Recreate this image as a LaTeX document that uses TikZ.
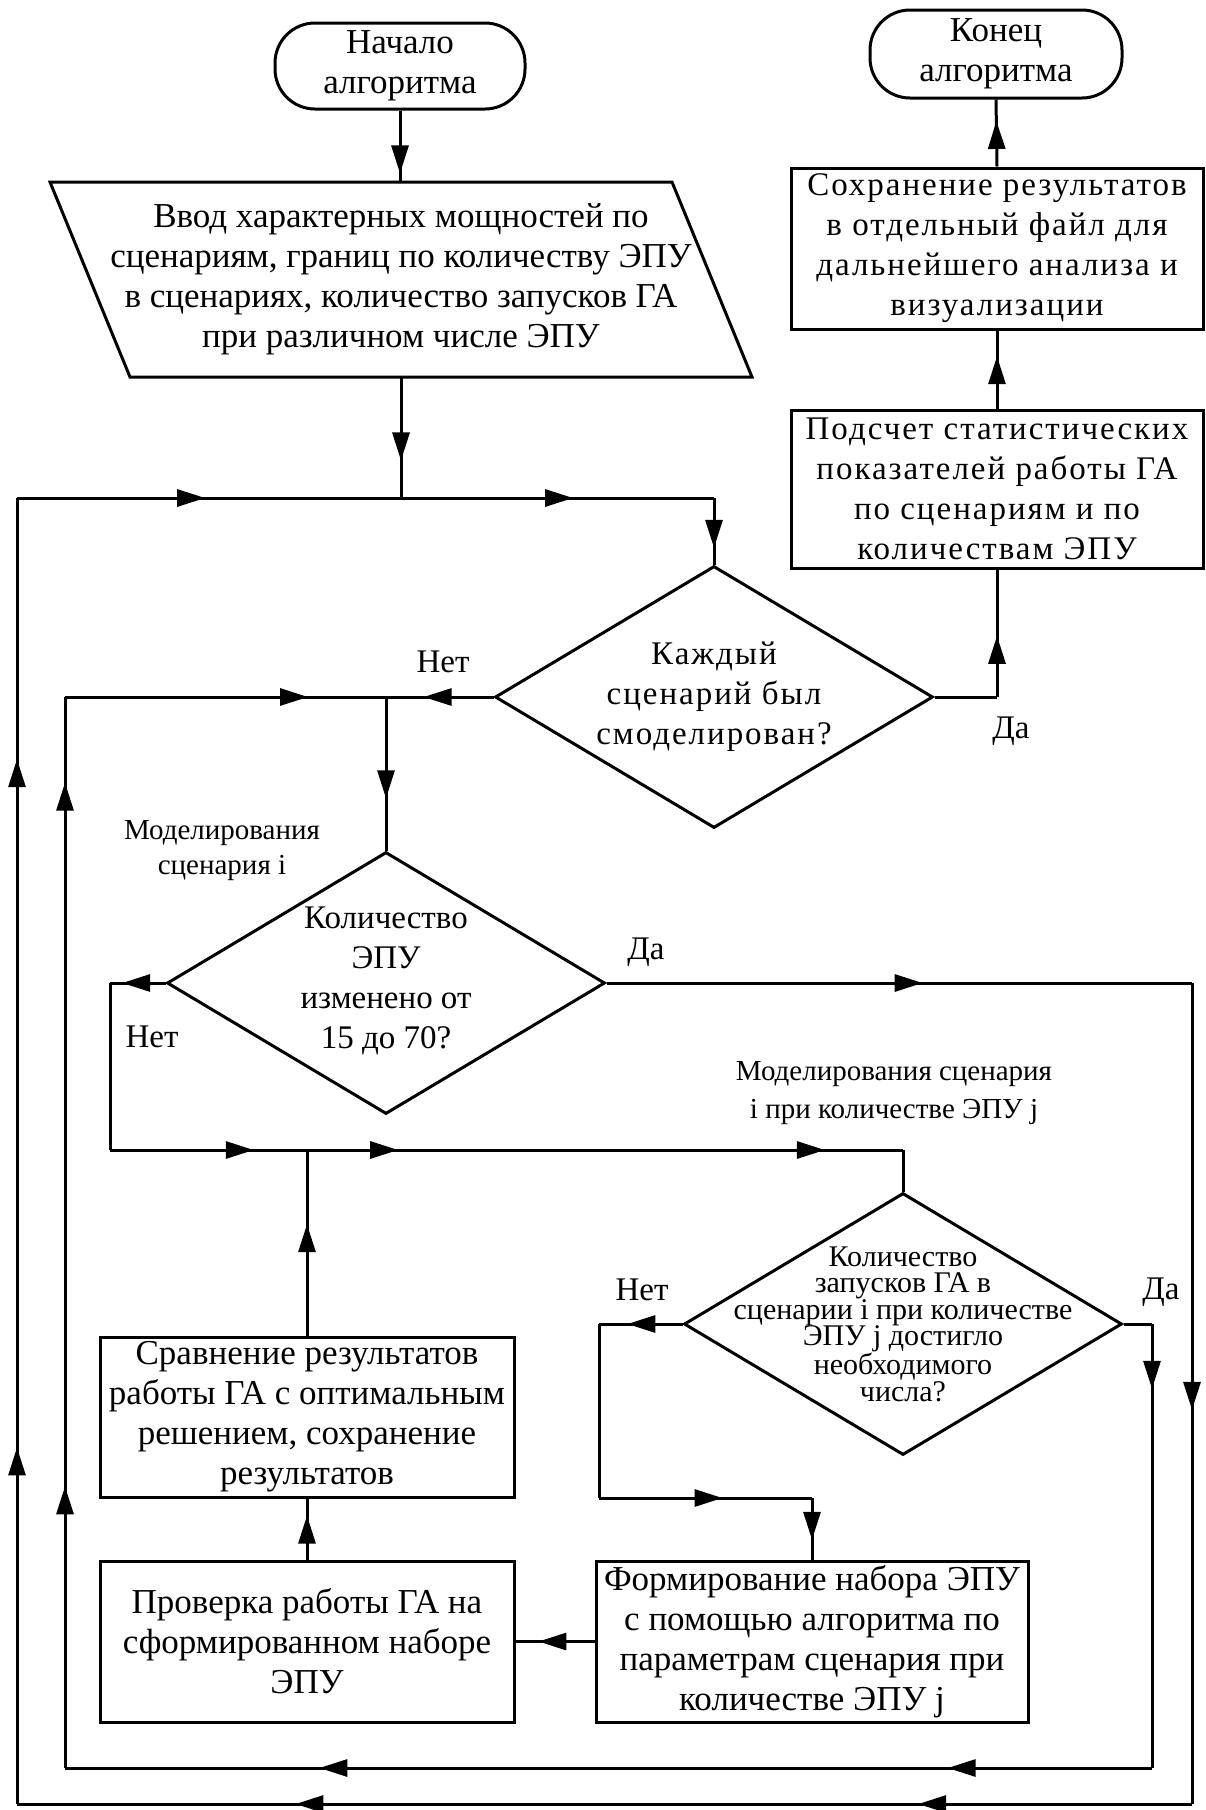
\documentclass[tikz,border=0pt]{standalone}
\usepackage{fontspec}
\setmainfont{Liberation Serif}
\newfontfamily\widefont[LetterSpace=6]{Liberation Serif}
\usetikzlibrary{arrows.meta,decorations.markings,calc,shapes.geometric}
\newcommand\mainsz{\fontsize{33}{40}\selectfont}
\newcommand\bigsz{\fontsize{35}{40}\selectfont}
\newcommand\smallsz{\fontsize{30}{26.5}\selectfont}
\begin{document}
\begin{tikzpicture}[x=1pt,y=-1pt,
  ln/.style={line width=3pt},
  box/.style={draw,line width=3pt,rectangle,align=center,inner sep=0pt,font=\bigsz},
  term/.style={draw,line width=3pt,rectangle,rounded corners=40pt,align=center,inner sep=0pt,font=\bigsz},
  dec/.style={draw,line width=3pt,diamond,inner sep=0pt,minimum width=438pt,minimum height=262pt},
  txt/.style={align=center,inner sep=0pt,font=\mainsz},
  lbl/.style={inner sep=0pt,font=\mainsz},
  ar/.style={postaction={decorate,decoration={markings,mark=at position #1 with {\arrow{Triangle[length=28pt,width=17pt]}}}}}
]
\useasboundingbox[fill=white] (0,0) rectangle (1205,1810);

% nodes
\node[term,minimum width=250pt,minimum height=86pt] (start) at (400,66) {Начало\\алгоритма};
\node[term,minimum width=252pt,minimum height=88pt] (end) at (996,54) {Конец\\алгоритма};
\node[txt,font=\bigsz,minimum width=622pt,minimum height=195pt,outer sep=0pt] (in) at (401,279.5) {Ввод характерных мощностей по\\сценариям, границ по количеству ЭПУ\\в сценариях, количество запусков ГА\\при различном числе ЭПУ};
\draw[ln] ($(in.north west)+(-40,0)$) -- ($(in.north east)+(-40,0)$) -- ($(in.south east)+(40,0)$) -- ($(in.south west)+(40,0)$) -- cycle;

\node[box,minimum width=412pt,minimum height=161pt,font=\mainsz\widefont] (save) at (997,248.5) {Сохранение результатов\\в отдельный файл для\\дальнейшего анализа и\\визуализации};
\node[box,minimum width=412pt,minimum height=158pt,font=\mainsz\widefont] (stat) at (997,489) {Подсчет статистических\\показателей работы ГА\\по сценариям и по\\количествам ЭПУ};

\node[dec] (d1) at (714,697) {};
\node[txt,font=\mainsz\widefont] (t1) at (714,697) {Каждый\\сценарий был\\смоделирован?};
\node[dec] (d2) at (386,983) {};
\node[txt] (t2) at (386,981) {Количество\\ЭПУ\\изменено от\\15 до 70?};
\node[dec] (d3) at (903,1324) {};
\node[txt,font=\smallsz] (t3) at (903,1324) {Количество\\запусков ГА в\\сценарии i при количестве\\ЭПУ j достигло\\необходимого\\числа?};

\node[box,minimum width=432pt,minimum height=161pt] (form) at (812,1641.5) {Формирование набора ЭПУ\\с помощью алгоритма по\\параметрам сценария при\\количестве ЭПУ j};
\node[box,minimum width=414pt,minimum height=161pt] (check) at (307,1641.5) {Проверка работы ГА на\\сформированном наборе\\ЭПУ};
\node[box,minimum width=414pt,minimum height=160pt] (comp) at (307,1417) {Сравнение результатов\\работы ГА с оптимальным\\решением, сохранение\\результатов};

% labels
\node[lbl] (l1) at (443,662) {Нет};
\node[lbl] (l2) at (1011,731) {Да};
\node[txt,font=\fontsize{29}{35}\selectfont] (l3) at (222,851) {Моделирования\\сценария i};
\node[lbl] (l4) at (646,952) {Да};
\node[lbl] (l5) at (152,1037) {Нет};
\node[txt,font=\fontsize{29}{38}\selectfont] (l6) at (894,1093) {Моделирования сценария\\i при количестве ЭПУ j};
\node[lbl] (l7) at (642,1290) {Нет};
\node[lbl] (l8) at (1161,1292) {Да};

% coordinates
\coordinate (J1) at (401,498);
\coordinate (C1) at (714,498);
\coordinate (J2) at (386,697);
\coordinate (S1) at (997,697);
\coordinate (O1) at (1192,983);
\coordinate (O2) at (1192,1804);
\coordinate (O3) at (17,1804);
\coordinate (O4) at (17,498);
\coordinate (I1) at (1152,1324);
\coordinate (I2) at (1152,1768);
\coordinate (I3) at (65,1768);
\coordinate (I4) at (65,697);
\coordinate (K1) at (110,983);
\coordinate (K2) at (110,1150);
\coordinate (J3) at (307,1150);
\coordinate (K3) at (903,1150);
\coordinate (M1) at (599,1324);
\coordinate (M2) at (599,1498);
\coordinate (M3) at (812,1498);

% connectors
\draw[ln,ar=0.88] (start.south) -- (start.south |- in.north);
\draw[ln,ar=0.69] (in.south) -- (J1);
\draw[ln,ar=0.55] (J1) -- (C1);
\draw[ln,ar=0.75] (C1) -- (d1.north);
\draw[ln] (d1.east) -- (S1);
\draw[ln,ar=0.48] (S1) -- (stat.south);
\draw[ln,ar=0.67] (stat.north) -- (save.south);
\draw[ln,ar=0.68] (save.north) -- (end.south);

\draw[ln,ar=0.65] (d1.west) -- (J2);
\draw[ln,ar=0.66] (J2) -- (d2.north);

\draw[ln,ar=0.54] (d2.east) -- (O1);
\draw[ln,ar=0.52] (O1) -- (O2);
\draw[ln,ar=0.233,ar=0.763] (O2) -- (O3);
\draw[ln,ar=0.273,ar=0.80] (O3) -- (O4);
\draw[ln,ar=0.49] (O4) -- (J1);

\draw[ln] (d3.east) -- (I1);
\draw[ln,ar=0.146] (I1) -- (I2);
\draw[ln,ar=0.188,ar=0.766] (I2) -- (I3);
\draw[ln,ar=0.263,ar=0.92] (I3) -- (I4);
\draw[ln,ar=0.757] (I4) -- (J2);

\draw[ln,ar=0.78] (d2.west) -- (K1);
\draw[ln] (K1) -- (K2);
\draw[ln,ar=0.73] (K2) -- (J3);
\draw[ln,ar=0.153,ar=0.869] (J3) -- (K3);
\draw[ln] (K3) -- (d3.north);
\draw[ln,ar=0.6] (comp.north) -- (J3);

\draw[ln,ar=0.66] (d3.west) -- (M1);
\draw[ln] (M1) -- (M2);
\draw[ln,ar=0.58] (M2) -- (M3);
\draw[ln,ar=0.68] (M3) -- (form.north);
\draw[ln,ar=0.71] (form.west) -- (check.east);
\draw[ln,ar=0.72] (check.north) -- (comp.south);
\end{tikzpicture}
\end{document}
